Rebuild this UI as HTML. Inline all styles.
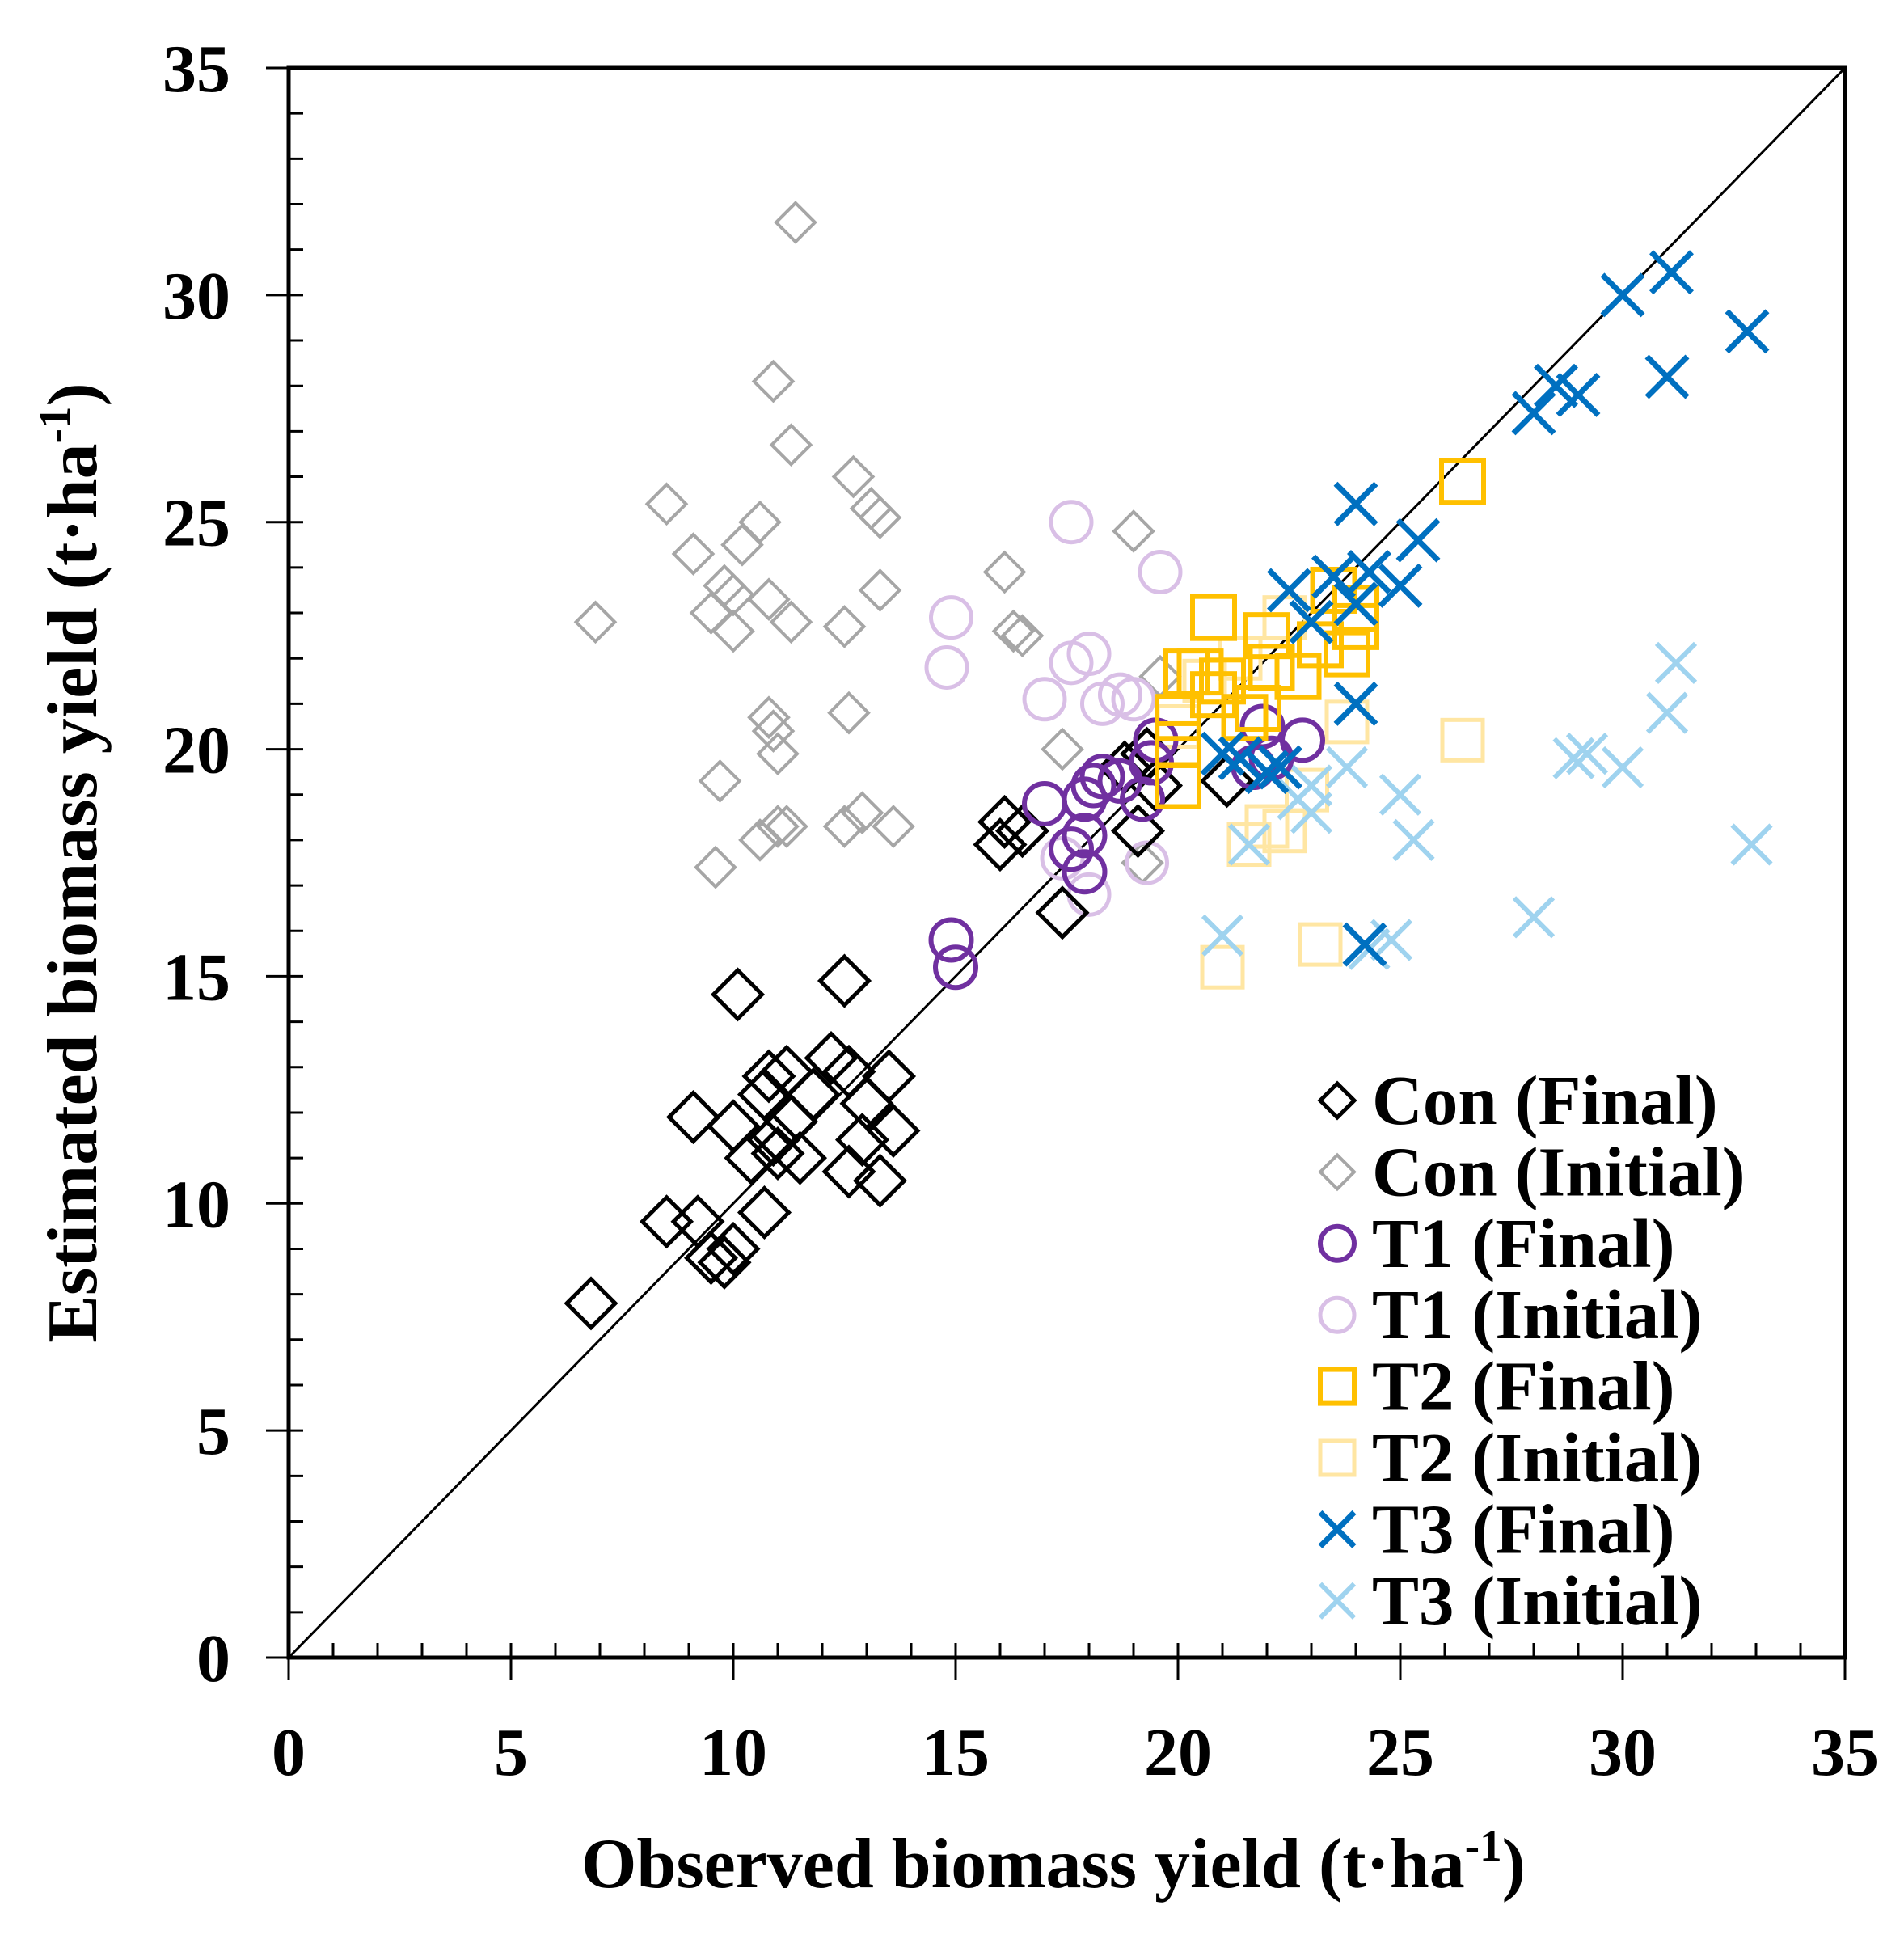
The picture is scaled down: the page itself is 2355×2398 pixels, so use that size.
<!DOCTYPE html>
<html><head><meta charset="utf-8"><style>
html,body{margin:0;padding:0;background:#fff}
svg text{font-family:"Liberation Serif",serif;font-weight:bold;fill:#000}
</style></head><body>
<svg id="chart" width="2355" height="2393" viewBox="0 0 2355 2393" xmlns="http://www.w3.org/2000/svg">
<g id="grid"></g><g id="marks"></g><g id="legend"></g>
<text x="1303" y="2334" font-size="88" text-anchor="middle">Observed biomass yield (t·ha<tspan dy="-33" font-size="55">-1</tspan><tspan dy="33">)</tspan></text>
<text transform="translate(119,1067) rotate(-90)" font-size="88" text-anchor="middle">Estimated biomass yield (t·ha<tspan dy="-33" font-size="55">-1</tspan><tspan dy="33">)</tspan></text>
</svg>
<script>
const xTicks=[0,5,10,15,20,25,30,35];
const yTicks=[0,5,10,15,20,25,30,35];
const conFinal=[[6.8,7.8],[8.5,9.6],[9.2,9.6],[9.5,8.8],[9.8,8.7],[10,9],[9.1,11.9],[10,11.7],[10.1,14.6],[10.4,11],[10.7,12.4],[10.8,12.8],[10.9,11.4],[11,11.1],[11.2,12.9],[11.3,11.8],[11.5,11],[11.8,12.4],[12.2,13.2],[12.5,14.9],[12.6,10.7],[12.6,12.9],[12.9,11.4],[13,12.2],[13.3,10.5],[13.5,12.8],[13.6,11.6],[10.7,9.8],[16,17.9],[16.1,18.4],[16.5,18.2],[17.4,16.4],[19.1,18.2],[18.8,19.6],[19.5,19.2],[21.1,19.3],[19.3,19.9]];
const conInitial=[[6.9,22.8],[8.5,25.4],[9.1,24.3],[9.5,23],[9.6,17.4],[9.7,19.3],[9.8,23.6],[10,23.4],[10,22.6],[10.2,24.5],[10.6,25],[10.6,18],[10.8,23.3],[10.8,20.7],[10.9,20.4],[11,18.3],[10.9,28.1],[11,19.9],[11.2,18.3],[11.3,22.8],[11.3,26.7],[11.4,31.6],[12.5,22.7],[12.6,20.8],[12.5,18.3],[12.7,26],[12.9,18.6],[13.1,25.3],[13.3,23.5],[13.3,25.1],[13.6,18.3],[16.1,23.9],[16.3,22.6],[16.5,22.5],[17.4,20],[19,24.8],[19.6,21.6],[19.2,17.5]];
const t1Final=[[14.9,15.8],[15,15.2],[17,18.8],[17.6,17.8],[17.9,17.3],[17.9,18.1],[17.9,18.9],[18.1,19.2],[18.3,19.4],[18.7,19.3],[19.2,18.9],[19.4,19.7],[19.5,20.2],[21.7,19.6],[22.1,19.8],[22.8,20.2],[21.9,20.5]];
const t1Initial=[[14.8,21.8],[14.9,22.9],[17,21.1],[17.6,25],[17.6,21.9],[18,22.1],[18.3,21],[18.7,21.2],[19,21.1],[19.3,17.5],[19.6,23.9],[18,16.8],[17.4,17.6]];
const t2Final=[[20,19.2],[20,20.1],[20,20.7],[20.2,21.7],[20.5,21.7],[20.8,21.2],[20.8,22.9],[21,21.5],[21.5,20.7],[21.8,20.9],[22,22.5],[22.1,21.8],[22.7,21.6],[23.2,22.3],[23.5,23.5],[23.8,22.1],[24,22.7],[24,23.1],[26.4,25.9]];
const t2Initial=[[21,15.2],[21.6,17.9],[22,18.3],[22.4,18.2],[22.9,19.1],[23.2,15.7],[23.8,20.6],[26.4,20.2],[20.6,21.5],[21.4,22],[22.4,22.9],[20,20.5]];
const t3Final=[[21,19.9],[21.4,19.8],[22,19.5],[22.3,19.6],[22.5,23.5],[23,22.8],[23.5,23.8],[24,25.4],[24,23.2],[24,21],[24.3,23.9],[25,23.6],[25.4,24.6],[24.2,15.7],[28,27.4],[28.5,28],[29,27.8],[30,30],[31,28.2],[31.1,30.5],[32.8,29.2]];
const t3Initial=[[21,15.9],[21.6,17.9],[22.7,18.9],[23,19.2],[23.8,19.6],[24.3,15.6],[24.8,15.8],[25,19],[25.3,18],[28,16.3],[28.9,19.8],[29.2,19.9],[30,19.6],[31,20.8],[31.2,21.9],[32.9,17.9],[23,18.6]];
const legendLabels=["Con (Final)","Con (Initial)","T1 (Final)","T1 (Initial)","T2 (Final)","T2 (Initial)","T3 (Final)","T3 (Initial)"];

const X0=357,X1=2282,Y0=2050,Y1=84;
const sx=v=>X0+(X1-X0)*v/35, sy=v=>Y0-(Y0-Y1)*v/35;
const NS="http://www.w3.org/2000/svg";
function mk(tag,attrs,parent){const e=document.createElementNS(NS,tag);for(const k in attrs)e.setAttribute(k,attrs[k]);parent.appendChild(e);return e;}
const grid=document.getElementById('grid'),marks=document.getElementById('marks'),leg=document.getElementById('legend');

let fr=mk('rect',{x:X0,y:Y1,width:X1-X0,height:Y0-Y1,fill:'none',stroke:'#000','stroke-width':5},grid);


let dl=mk('line',{x1:sx(0),y1:sy(0),x2:sx(35),y2:sy(35),stroke:'#000','stroke-width':3},grid);


for(let i=0;i<=35;i++){
  const major=i%5===0;
  let t=mk('line',{x1:sx(i),x2:sx(i),y1:major?Y0+28:Y0,y2:Y0-18,stroke:'#000','stroke-width':3},grid);
  
  
  let u=mk('line',{y1:sy(i),y2:sy(i),x1:major?X0-28:X0,x2:X0+18,stroke:'#000','stroke-width':3},grid);
  
  
}
xTicks.forEach(v=>{let t=mk('text',{x:sx(v),y:Y0+145,'font-size':84,'text-anchor':'middle'},grid);t.textContent=v;
  
  });
yTicks.forEach(v=>{let t=mk('text',{x:X0-72,y:sy(v)+29,'font-size':84,'text-anchor':'end'},grid);t.textContent=v;
  
  });

function marker(shape,cx,cy,color,s,sw,parent){
  let e;
  if(shape==='diamond') e=mk('polygon',{points:`${cx},${cy-s} ${cx+s},${cy} ${cx},${cy+s} ${cx-s},${cy}`,fill:'none',stroke:color,'stroke-width':sw},parent);
  else if(shape==='circle') e=mk('circle',{cx,cy,r:s,fill:'none',stroke:color,'stroke-width':sw},parent);
  else if(shape==='square') e=mk('rect',{x:cx-s,y:cy-s,width:2*s,height:2*s,fill:'none',stroke:color,'stroke-width':sw},parent);
  else e=mk('path',{d:`M${cx-s},${cy-s}L${cx+s},${cy+s}M${cx-s},${cy+s}L${cx+s},${cy-s}`,fill:'none',stroke:color,'stroke-width':sw},parent);
  return e;
}
const series=[
 {d:conInitial,shape:'diamond',c:'#a6a6a6',s:24,sw:4,n:'con-initial'},
 {d:t1Initial,shape:'circle',c:'#d9bfe6',s:25,sw:5,n:'t1-initial'},
 {d:t2Initial,shape:'square',c:'#ffe6a3',s:25,sw:5,n:'t2-initial'},
 {d:t3Initial,shape:'x',c:'#9fd3ef',s:24,sw:6,n:'t3-initial'},
 {d:conFinal,shape:'diamond',c:'#000',s:30,sw:5,n:'con-final'},
 {d:t1Final,shape:'circle',c:'#7030a0',s:25,sw:6,n:'t1-final'},
 {d:t2Final,shape:'square',c:'#ffc000',s:26,sw:6,n:'t2-final'},
 {d:t3Final,shape:'x',c:'#0070c0',s:25,sw:7,n:'t3-final'}];
series.forEach(S=>S.d.forEach(p=>{const e=marker(S.shape,sx(p[0]),sy(p[1]),S.c,S.s,S.sw,marks);
  
  }));
const legOrder=[4,0,5,1,6,2,7,3];
legendLabels.forEach((lab,i)=>{const S=series[legOrder[i]];const y=1361+i*88.4;
  const m=marker(S.shape,1654,y,S.c,21,S.sw,leg);
  
  
  const t=mk('text',{x:1697,y:y+29,'font-size':87},leg);t.textContent=lab;
  
  });
</script>
</body></html>
